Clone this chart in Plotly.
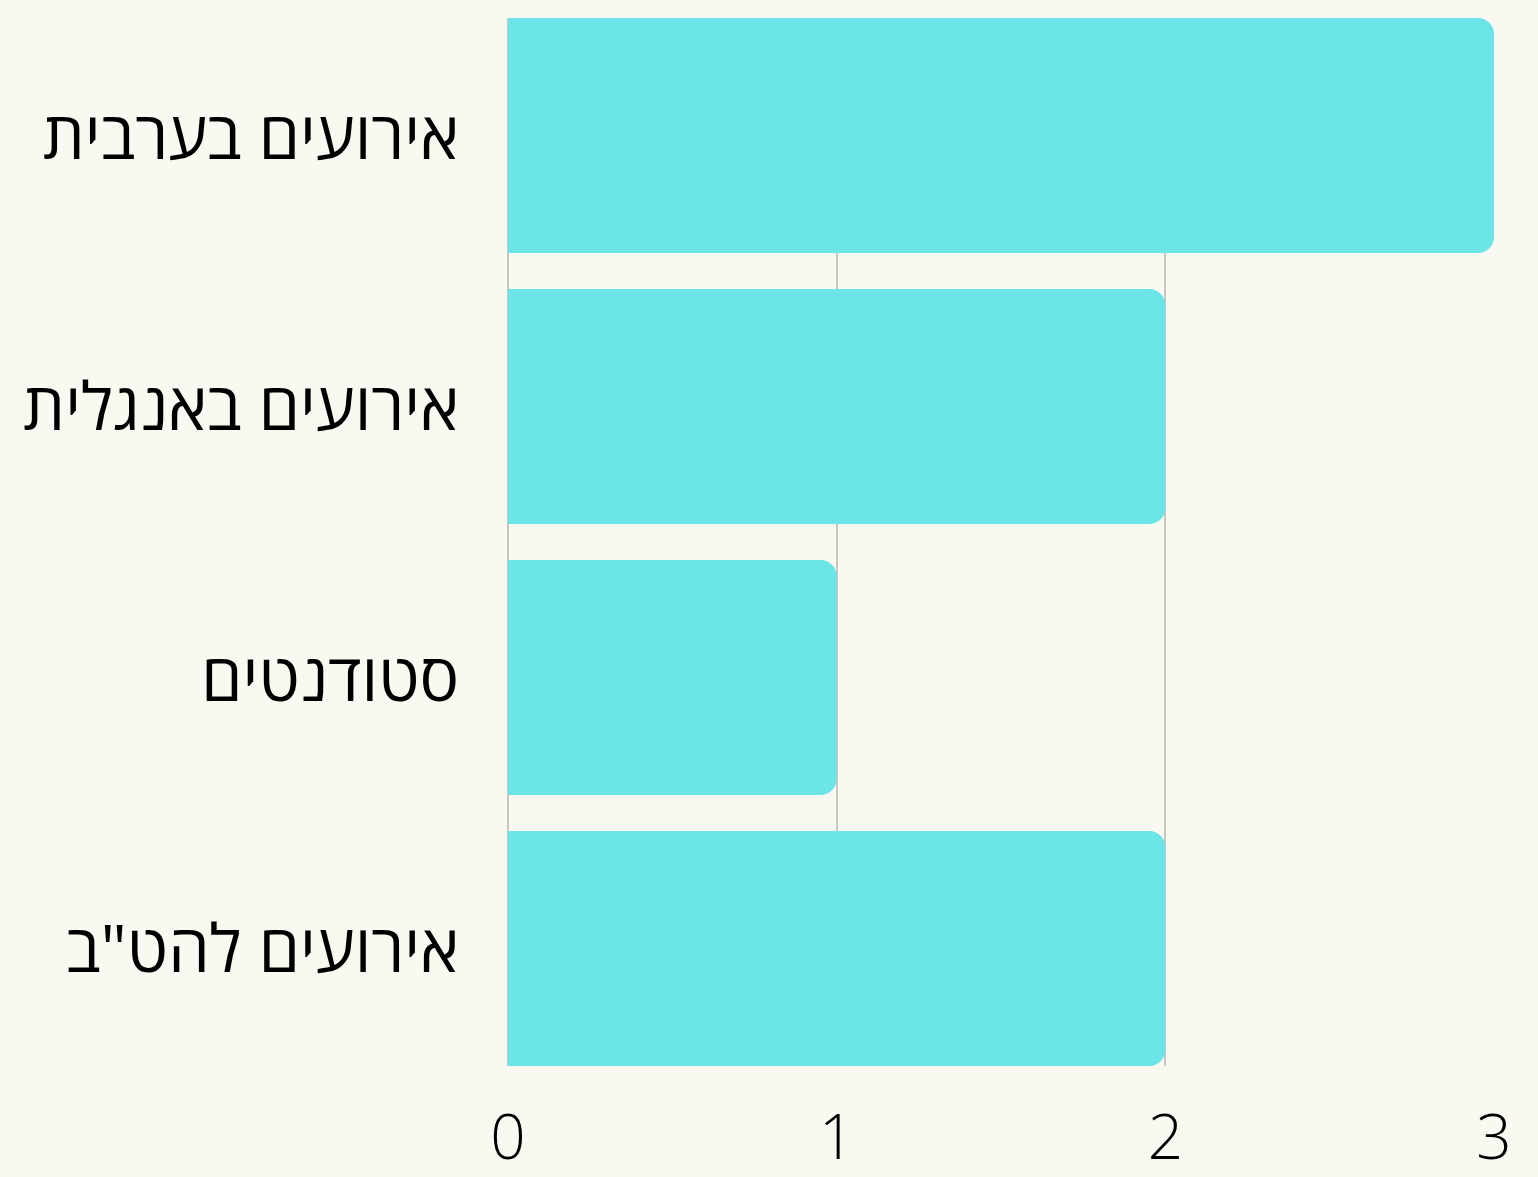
import plotly.graph_objects as go

categories = ["אירועים בערבית", "אירועים באנגלית", "סטודנטים", "אירועים להט\"ב"]
values = [3, 2, 1, 2]
tick_vals = [0, 1, 2, 3]
tick_text = ["0", "1", "2", "3"]

BG = "#F9F8F1"
bar_frac = 235 / 271  # bar thickness in category units

fig = go.Figure(
    go.Bar(
        x=values,
        y=categories,
        orientation="h",
        width=bar_frac,
        marker=dict(color="#6BE5E8", line=dict(width=0)),
        hoverinfo="skip",
    )
)

fig.update_layout(
    width=1538,
    height=1177,
    paper_bgcolor=BG,
    plot_bgcolor=BG,
    margin=dict(l=508, r=44, t=18, b=111, autoexpand=False),
    barcornerradius=16,
    showlegend=False,
    font=dict(family="Open Sans", color="#000000"),
)

fig.update_xaxes(
    range=[0, 3],
    tickvals=tick_vals,
    ticktext=tick_text,
    showgrid=True,
    gridcolor="#C8C7C0",
    gridwidth=1.5,
    zeroline=True,
    zerolinecolor="#C8C7C0",
    zerolinewidth=1.5,
    showline=False,
    automargin=False,
    tickfont=dict(family="Open Sans", size=62, weight=300, color="#000000"),
    ticklabelstandoff=30,
)

fig.update_yaxes(
    autorange=False,
    range=[3 + bar_frac / 2, -bar_frac / 2],
    showgrid=False,
    showline=False,
    automargin=False,
    tickfont=dict(family="Open Sans", size=66, color="#000000"),
    ticklabelstandoff=48,
)

fig.write_html(
    "out.html",
    config={"displayModeBar": False},
    post_script="document.body.style.margin='0';document.body.style.background='" + BG + "';",
)
